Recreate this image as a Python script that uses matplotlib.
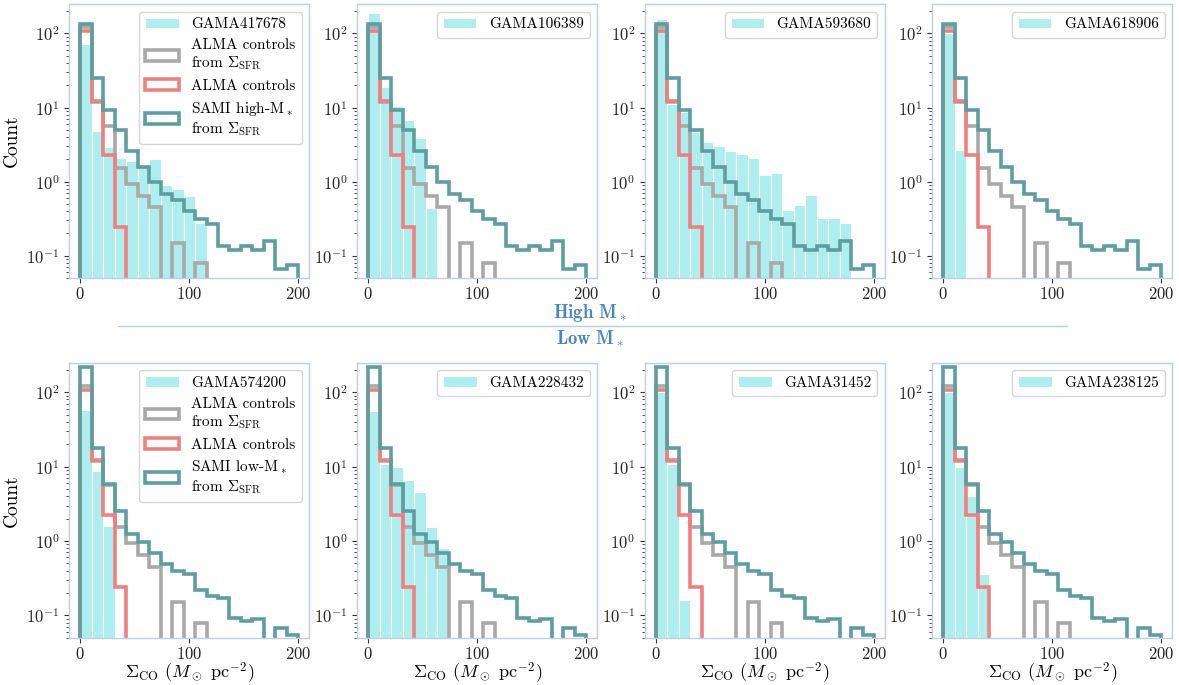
import numpy as np
import matplotlib
matplotlib.use("Agg")
import matplotlib.pyplot as plt

plt.rcParams['font.family'] = 'serif'
plt.rcParams['font.serif'] = ['cmr10']
plt.rcParams['mathtext.fontset'] = 'cm'
plt.rcParams['axes.formatter.use_mathtext'] = True
plt.rcParams['axes.unicode_minus'] = False

# ---------------- data ----------------
bin_edges = np.linspace(0, 200, 20)

# shared comparison histograms
alma_sfr = [123, 11.8, 5.6, 1.54, 0.93, 0.64, 0.45, 0, 0.149, 0, 0.08,
            0, 0, 0, 0, 0, 0, 0, 0]
alma = [107, 12.4, 2.27, 0.242, 0, 0, 0, 0, 0, 0, 0,
        0, 0, 0, 0, 0, 0, 0, 0]
sami_high = [136, 24.7, 9.3, 5.0, 2.63, 1.59, 1.0, 0.68, 0.57, 0.40, 0.31,
             0.27, 0.137, 0.12, 0.134, 0.12, 0.157, 0.066, 0.076]
sami_low = [221, 17.6, 5.8, 2.5, 1.25, 0.96, 0.68, 0.49, 0.40, 0.365, 0.22,
            0.18, 0.17, 0.091, 0.084, 0.09, 0, 0.067, 0.054]

# individual galaxies
top_names = ["GAMA417678", "GAMA106389", "GAMA593680", "GAMA618906"]
bottom_names = ["GAMA574200", "GAMA228432", "GAMA31452", "GAMA238125"]

gama417678 = [73, 4.9, 2.9, 2.1, 1.9, 1.65, 2.0, 0.9, 0.8, 0.63, 0.28]
gama106389 = [189, 19, 10.5, 6.8, 3.9, 0.44]
gama593680 = [159, 11, 8.7, 4.75, 3.46, 3.06, 2.6, 2.37, 2.1, 1.24, 1.32,
              0.41, 0.48, 0.65, 0.32, 0.32, 0.28]
gama618906 = [102, 2.7]
gama574200 = [58, 8.8, 1.58]
gama228432 = [56, 11, 9.8, 6.6, 4.6, 1.54, 0.8]
gama31452 = [100, 11, 0.16]
gama238125 = [102, 9.8, 4.0, 0.36]

top_gal = [gama417678, gama106389, gama593680, gama618906]
bottom_gal = [gama574200, gama228432, gama31452, gama238125]

# ---------------- style ----------------
C_CYAN = '#afeeee'
C_GRAY = '#a9a9a9'
C_RED = '#f08080'
C_TEAL = '#5f9ea0'
C_SPINE = '#bccfe3'
C_BLUE = '#4a86c0'

W, H = 1179, 685
fig = plt.figure(figsize=(W / 100, H / 100), dpi=100)

lefts = [69.3, 357.3, 645.0, 932.3]
ax_w = 240.0
rows = [(4.0, 278.0), (362.7, 637.7)]

centers = 0.5 * (bin_edges[:-1] + bin_edges[1:])


def pad(vals):
    v = np.zeros(len(centers))
    v[:len(vals)] = vals
    return v


def draw_panel(ax, gal, name, sami, sami_label, first, bottom_row):
    _, _, p_cyan = ax.hist(centers, bins=bin_edges, weights=pad(gal), color=C_CYAN,
                           edgecolor='white', linewidth=0.8, label=name, log=True)
    _, _, p_gray = ax.hist(centers, bins=bin_edges, weights=pad(alma_sfr),
                           histtype='step', color=C_GRAY, linewidth=2.6,
                           label='ALMA controls\nfrom $\\Sigma_{\\rm SFR}$')
    _, _, p_red = ax.hist(centers, bins=bin_edges, weights=pad(alma),
                          histtype='step', color=C_RED, linewidth=2.6,
                          label='ALMA controls')
    _, _, p_teal = ax.hist(centers, bins=bin_edges, weights=pad(sami),
                           histtype='step', color=C_TEAL, linewidth=2.6,
                           label=sami_label)
    ax.set_yscale('log', nonpositive='clip')
    ax.set_ylim(0.05, 250)
    ax.set_xlim(-10, 210)
    ax.set_xticks([0, 100, 200])
    for s in ax.spines.values():
        s.set_color(C_SPINE)
        s.set_linewidth(1.0)
    ax.tick_params(axis='both', which='both', colors='#333333', labelsize=12,
                   labelcolor='#222222')
    ax.tick_params(axis='y', which='minor', length=2, width=0.6)
    ax.tick_params(axis='x', pad=2.5)
    if first:
        handles = [p_cyan[0], p_gray[0], p_red[0], p_teal[0]]
        labels = [name, 'ALMA controls\nfrom $\\Sigma_{\\rm SFR}$', 'ALMA controls',
                  sami_label]
        ax.legend(handles, labels, loc='upper right', fontsize=11,
                  handlelength=2.2, labelspacing=0.45)
        ax.set_ylabel('Count', fontsize=14)
    else:
        ax.legend([p_cyan[0]], [name], loc='upper right', fontsize=11,
                  handlelength=2.2)
    if bottom_row:
        ax.set_xlabel(r'$\Sigma_{\rm CO}$ ($M_\odot$ pc$^{-2}$)', fontsize=13,
                      labelpad=-1)


for r, (top_px, bot_px) in enumerate(rows):
    names = top_names if r == 0 else bottom_names
    gals = top_gal if r == 0 else bottom_gal
    sami = sami_high if r == 0 else sami_low
    slabel = ('SAMI high-M$_*$\nfrom $\\Sigma_{\\rm SFR}$' if r == 0
              else 'SAMI low-M$_*$\nfrom $\\Sigma_{\\rm SFR}$')
    for i in range(4):
        ax = fig.add_axes([lefts[i] / W, 1 - bot_px / H, ax_w / W,
                           (bot_px - top_px) / H])
        draw_panel(ax, gals[i], names[i], sami, slabel, i == 0, r == 1)

# separator between the two rows
fig.text(590 / W, 1 - 313 / H, r'$\mathbf{High\ M_*}$', color=C_BLUE,
         ha='center', va='center', fontsize=13.5)
fig.add_artist(plt.Line2D([118 / W, 1067 / W], [1 - 326 / H, 1 - 326 / H],
                          color='#b5cde3', linewidth=1.0))
fig.text(590 / W, 1 - 339 / H, r'$\mathbf{Low\ M_*}$', color=C_BLUE,
         ha='center', va='center', fontsize=13.5)

fig.savefig('out.png', dpi=100)
